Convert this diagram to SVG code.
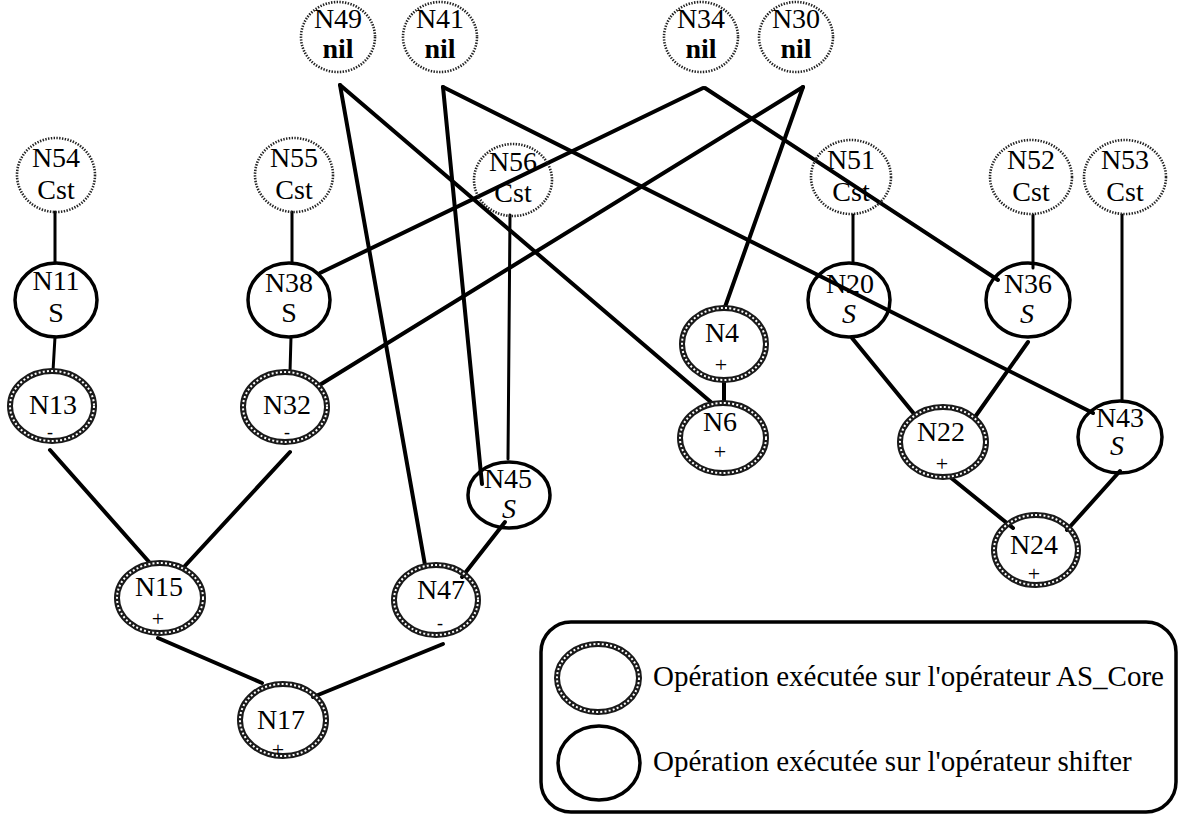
<svg xmlns="http://www.w3.org/2000/svg" width="1183" height="816" viewBox="0 0 1183 816">
  <style>
    .lbl { font-family: "Liberation Serif", "Times New Roman", serif; font-size: 28px; fill: #000; text-anchor: middle; }
    .op { font-size: 22px; }
    .mn { font-size: 18px; }
    .nil { font-weight: bold; }
    .it { font-style: italic; }
    .leg { font-family: "Liberation Serif", "Times New Roman", serif; font-size: 29px; fill: #000; }
    .edge { stroke: #000; stroke-width: 4; stroke-linecap: round; fill: none; }
    .thin { stroke: #000; stroke-width: 3; stroke-linecap: round; fill: none; }
    .data { fill: none; stroke: #222; stroke-width: 2.6; stroke-dasharray: 1.4 1.4; }
    .shift { fill: none; stroke: #000; stroke-width: 3.5; }
    .core-out { fill: none; stroke: #1a1a1a; stroke-width: 6; }
    .core-in { fill: none; stroke: #fff; stroke-width: 2; stroke-dasharray: 2 2.2; }
  </style>

  <!-- connectors -->
  <g id="connectors">
    <line class="thin" x1="55" y1="212" x2="55" y2="263"/>
    <line class="thin" x1="55" y1="337" x2="53" y2="371"/>
    <line class="thin" x1="292" y1="212" x2="292" y2="263"/>
    <line class="thin" x1="291" y1="337" x2="290" y2="372"/>
    <line class="edge" x1="50" y1="450" x2="150" y2="563"/>
    <line class="edge" x1="290" y1="452" x2="183" y2="568"/>
    <line class="edge" x1="158" y1="638" x2="262" y2="683"/>
    <line class="edge" x1="443" y1="644" x2="313" y2="697"/>
    <line class="edge" x1="505" y1="522" x2="462" y2="577"/>
    <line class="edge" x1="340" y1="85" x2="425" y2="565"/>
    <line class="edge" x1="340" y1="85" x2="712" y2="403"/>
    <line class="edge" x1="443" y1="87" x2="482" y2="484"/>
    <line class="edge" x1="443" y1="87" x2="1093" y2="413"/>
    <line class="edge" x1="705" y1="88" x2="998" y2="280"/>
    <line class="edge" x1="703" y1="88" x2="320" y2="273"/>
    <line class="edge" x1="803" y1="87" x2="318" y2="386"/>
    <line class="edge" x1="803" y1="87" x2="725" y2="307"/>
    <line class="thin" x1="510" y1="215" x2="508" y2="459"/>
    <line class="edge" x1="724" y1="380" x2="724" y2="404"/>
    <line class="thin" x1="853" y1="215" x2="853" y2="263"/>
    <line class="thin" x1="1033" y1="215" x2="1033" y2="268"/>
    <line class="thin" x1="1122" y1="215" x2="1122" y2="401"/>
    <line class="edge" x1="852" y1="338" x2="915" y2="415"/>
    <line class="edge" x1="1028" y1="342" x2="975" y2="417"/>
    <line class="edge" x1="950" y1="477" x2="1013" y2="528"/>
    <line class="edge" x1="1120" y1="471" x2="1067" y2="530"/>
  </g>

  <!-- input nodes (nil) -->
  <g id="N49"><ellipse class="data" cx="338" cy="37" rx="37" ry="35"/><text class="lbl" x="338" y="28">N49</text><text class="lbl nil" x="338" y="58">nil</text></g>
  <g id="N41"><ellipse class="data" cx="440" cy="37" rx="37" ry="35"/><text class="lbl" x="440" y="28">N41</text><text class="lbl nil" x="440" y="58">nil</text></g>
  <g id="N34"><ellipse class="data" cx="701" cy="37" rx="37" ry="35"/><text class="lbl" x="701" y="28">N34</text><text class="lbl nil" x="701" y="58">nil</text></g>
  <g id="N30"><ellipse class="data" cx="796" cy="37" rx="37" ry="35"/><text class="lbl" x="796" y="28">N30</text><text class="lbl nil" x="796" y="58">nil</text></g>

  <!-- constants -->
  <g id="N54"><ellipse class="data" cx="56" cy="175" rx="39" ry="37"/><text class="lbl" x="56" y="167">N54</text><text class="lbl" x="56" y="199">Cst</text></g>
  <g id="N55"><ellipse class="data" cx="294" cy="175" rx="39" ry="37"/><text class="lbl" x="294" y="167">N55</text><text class="lbl" x="294" y="199">Cst</text></g>
  <g id="N56"><ellipse class="data" cx="513" cy="180" rx="39" ry="36"/><text class="lbl" x="513" y="171">N56</text><text class="lbl" x="513" y="202">Cst</text></g>
  <g id="N51"><ellipse class="data" cx="851" cy="177" rx="40" ry="37"/><text class="lbl" x="851" y="169">N51</text><text class="lbl" x="851" y="201">Cst</text></g>
  <g id="N52"><ellipse class="data" cx="1031" cy="177" rx="41" ry="37"/><text class="lbl" x="1031" y="169">N52</text><text class="lbl" x="1031" y="201">Cst</text></g>
  <g id="N53"><ellipse class="data" cx="1125" cy="177" rx="41" ry="37"/><text class="lbl" x="1125" y="169">N53</text><text class="lbl" x="1125" y="201">Cst</text></g>

  <!-- shifter operations -->
  <g id="N11"><ellipse class="shift" cx="56" cy="300" rx="41" ry="37"/><text class="lbl" x="56" y="290">N11</text><text class="lbl" x="56" y="322">S</text></g>
  <g id="N38"><ellipse class="shift" cx="289" cy="300" rx="41" ry="37"/><text class="lbl" x="289" y="292">N38</text><text class="lbl" x="289" y="322">S</text></g>
  <g id="N20"><ellipse class="shift" cx="849" cy="300" rx="41" ry="37"/><text class="lbl" x="850" y="293">N20</text><text class="lbl it" x="849" y="323">S</text></g>
  <g id="N36"><ellipse class="shift" cx="1028" cy="300" rx="42" ry="37"/><text class="lbl" x="1028" y="293">N36</text><text class="lbl it" x="1027" y="323">S</text></g>
  <g id="N43"><ellipse class="shift" cx="1120" cy="437" rx="42" ry="36"/><text class="lbl" x="1120" y="427">N43</text><text class="lbl it" x="1117" y="455">S</text></g>
  <g id="N45"><ellipse class="shift" cx="509" cy="495" rx="41" ry="33"/><text class="lbl" x="508" y="488">N45</text><text class="lbl it" x="509" y="518">S</text></g>

  <!-- AS_Core operations -->
  <g id="N13"><ellipse class="core-out" cx="52" cy="406" rx="42" ry="35"/><ellipse class="core-in" cx="52" cy="406" rx="42" ry="35"/><text class="lbl" x="53" y="414">N13</text><text class="lbl mn" x="50" y="438">-</text></g>
  <g id="N32"><ellipse class="core-out" cx="285" cy="407" rx="42" ry="35"/><ellipse class="core-in" cx="285" cy="407" rx="42" ry="35"/><text class="lbl" x="287" y="414">N32</text><text class="lbl mn" x="287" y="438">-</text></g>
  <g id="N15"><ellipse class="core-out" cx="160" cy="598" rx="43" ry="35"/><ellipse class="core-in" cx="160" cy="598" rx="43" ry="35"/><text class="lbl" x="159" y="596">N15</text><text class="lbl op" x="158" y="626">+</text></g>
  <g id="N47"><ellipse class="core-out" cx="436" cy="600" rx="42" ry="35"/><ellipse class="core-in" cx="436" cy="600" rx="42" ry="35"/><text class="lbl" x="441" y="599">N47</text><text class="lbl mn" x="440" y="629">-</text></g>
  <g id="N17"><ellipse class="core-out" cx="283" cy="720" rx="43" ry="36"/><ellipse class="core-in" cx="283" cy="720" rx="43" ry="36"/><text class="lbl" x="281" y="729">N17</text><text class="lbl op" x="278" y="757">+</text></g>
  <g id="N4"><ellipse class="core-out" cx="724" cy="344" rx="42" ry="36"/><ellipse class="core-in" cx="724" cy="344" rx="42" ry="36"/><text class="lbl" x="722" y="342">N4</text><text class="lbl op" x="721" y="372">+</text></g>
  <g id="N6"><ellipse class="core-out" cx="723" cy="438" rx="43" ry="35"/><ellipse class="core-in" cx="723" cy="438" rx="43" ry="35"/><text class="lbl" x="720" y="431">N6</text><text class="lbl op" x="720" y="459">+</text></g>
  <g id="N22"><ellipse class="core-out" cx="943" cy="442" rx="43" ry="35"/><ellipse class="core-in" cx="943" cy="442" rx="43" ry="35"/><text class="lbl" x="941" y="441">N22</text><text class="lbl op" x="942" y="471">+</text></g>
  <g id="N24"><ellipse class="core-out" cx="1036" cy="550" rx="42" ry="35"/><ellipse class="core-in" cx="1036" cy="550" rx="42" ry="35"/><text class="lbl" x="1034" y="554">N24</text><text class="lbl op" x="1034" y="581">+</text></g>

  <!-- legend -->
  <g id="legend">
    <rect x="541" y="622" width="635" height="190" rx="30" ry="30" fill="none" stroke="#000" stroke-width="3.5"/>
    <ellipse class="core-out" cx="598" cy="678" rx="41" ry="34"/>
    <ellipse class="core-in" cx="598" cy="678" rx="41" ry="34"/>
    <text class="leg" x="653" y="686">Opération exécutée sur l'opérateur AS_Core</text>
    <ellipse class="shift" cx="599" cy="763" rx="41" ry="37"/>
    <text class="leg" x="653" y="771">Opération exécutée sur l'opérateur shifter</text>
  </g>
</svg>
